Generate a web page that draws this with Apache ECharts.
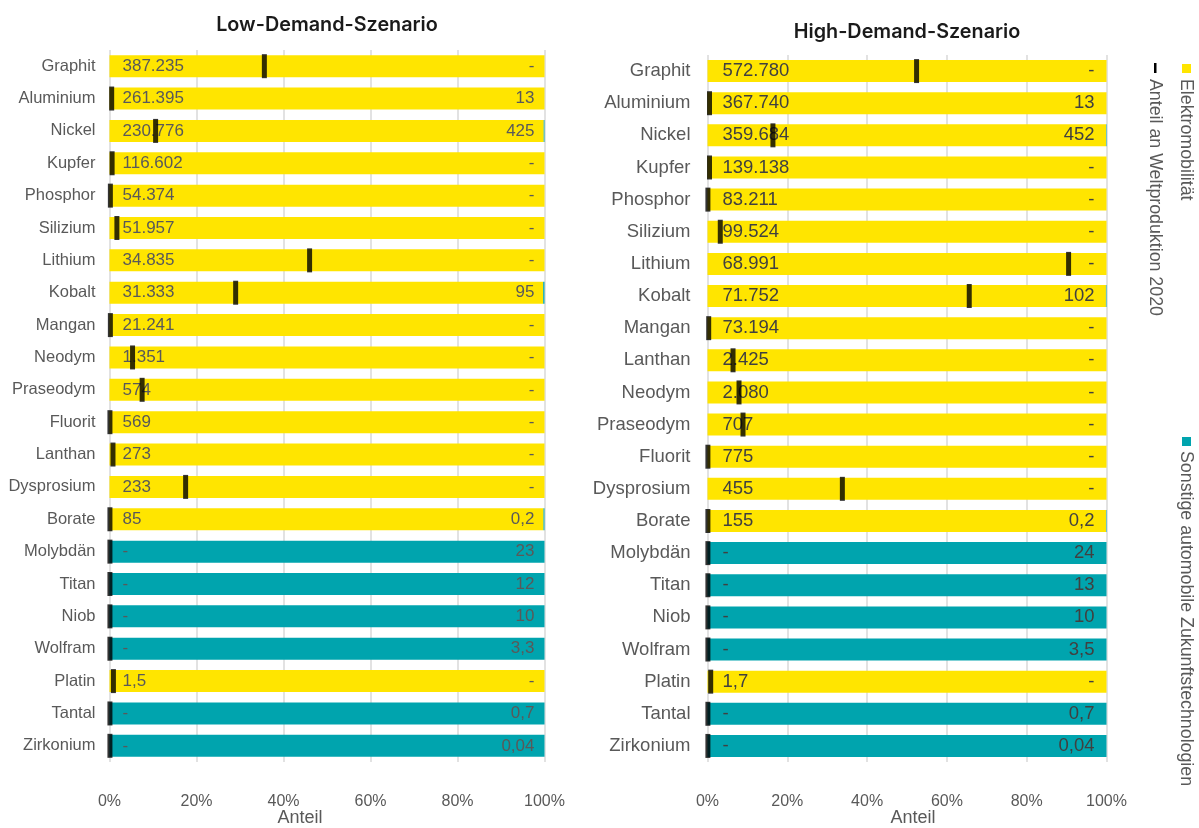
<!DOCTYPE html>
<html>
<head>
<meta charset="utf-8">
<script src="https://cdn.jsdelivr.net/npm/echarts@6/dist/echarts.min.js"></script>
<style>
  html, body { margin: 0; padding: 0; background: #fff; }
  #chart { width: 1199px; height: 828px; }
</style>
</head>
<body>
<div id="chart"></div>
<script>
// Low-Demand-Szenario
var catsLow = ['Graphit', 'Aluminium', 'Nickel', 'Kupfer', 'Phosphor', 'Silizium', 'Lithium', 'Kobalt', 'Mangan', 'Neodym', 'Praseodym', 'Fluorit', 'Lanthan', 'Dysprosium', 'Borate', 'Molybdän', 'Titan', 'Niob', 'Wolfram', 'Platin', 'Tantal', 'Zirkonium'];
var elektroLow = [387235, 261395, 230776, 116602, 54374, 51957, 34835, 31333, 21241, 1351, 574, 569, 273, 233, 85, 0, 0, 0, 0, 1.5, 0, 0];
var sonstigeLow = [0, 13, 425, 0, 0, 0, 0, 95, 0, 0, 0, 0, 0, 0, 0.2, 23, 12, 10, 3.3, 0, 0.7, 0.04];
var weltLow = [35.6, 0.5, 10.6, 0.6, 0.2, 1.7, 46.0, 29.0, 0.2, 5.3, 7.5, 0.1, 0.8, 17.5, 0.1, 0.1, 0.1, 0.1, 0.1, 0.9, 0.1, 0.1];

// High-Demand-Szenario
var catsHigh = ['Graphit', 'Aluminium', 'Nickel', 'Kupfer', 'Phosphor', 'Silizium', 'Lithium', 'Kobalt', 'Mangan', 'Lanthan', 'Neodym', 'Praseodym', 'Fluorit', 'Dysprosium', 'Borate', 'Molybdän', 'Titan', 'Niob', 'Wolfram', 'Platin', 'Tantal', 'Zirkonium'];
var elektroHigh = [572780, 367740, 359684, 139138, 83211, 99524, 68991, 71752, 73194, 2425, 2080, 707, 775, 455, 155, 0, 0, 0, 0, 1.7, 0, 0];
var sonstigeHigh = [0, 13, 452, 0, 0, 0, 0, 102, 0, 0, 0, 0, 0, 0, 0.2, 24, 13, 10, 3.5, 0, 0.7, 0.04];
var weltHigh = [52.4, 0.5, 16.4, 0.5, 0.1, 3.2, 90.5, 65.6, 0.3, 6.4, 7.9, 8.9, 0.1, 33.8, 0.1, 0.1, 0.1, 0.1, 0.1, 0.8, 0.1, 0.1];

var xTicks = [0, 20, 40, 60, 80, 100];

var YELLOW = '#FFE500';
var TEAL = '#00A4AE';

// deutsche Zahlenformatierung, 0 -> '-'
function fmt(v) {
  if (!v) return '-';
  var p = String(v).split('.');
  var i = p[0].replace(/\B(?=(\d{3})+(?!\d))/g, '.');
  return p[1] ? i + ',' + p[1] : i;
}

function share(a, b) {
  return a.map(function (v, i) { return v / (v + b[i]) * 100; });
}

// Serien fuer ein Panel
function panelSeries(idx, el, so, welt, valFont, valColor, dl, dr) {
  var full = el.map(function () { return 100; });
  return [{
    type: 'bar', xAxisIndex: idx, yAxisIndex: idx, stack: 's' + idx,
    barWidth: 22, barGap: '-100%',
    itemStyle: { color: YELLOW },
    data: share(el, so)
  }, {
    type: 'bar', xAxisIndex: idx, yAxisIndex: idx, stack: 's' + idx,
    barWidth: 22, barGap: '-100%',
    itemStyle: { color: TEAL },
    data: share(so, el)
  }, {
    type: 'bar', xAxisIndex: idx, yAxisIndex: idx, silent: true, z: 3,
    barWidth: 22, barGap: '-100%',
    itemStyle: { color: 'rgba(0,0,0,0)' },
    label: {
      show: true, position: 'insideLeft', distance: dl,
      fontFamily: 'Liberation Sans', fontSize: valFont, color: valColor,
      formatter: function (p) { return fmt(el[p.dataIndex]); }
    },
    data: full
  }, {
    type: 'bar', xAxisIndex: idx, yAxisIndex: idx, silent: true, z: 3,
    barWidth: 22, barGap: '-100%',
    itemStyle: { color: 'rgba(0,0,0,0)' },
    label: {
      show: true, position: 'insideRight', distance: dr,
      fontFamily: 'Liberation Sans', fontSize: valFont, color: valColor,
      formatter: function (p) { return fmt(so[p.dataIndex]); }
    },
    data: full
  }, {
    type: 'scatter', xAxisIndex: idx, yAxisIndex: idx, z: 10,
    symbol: 'rect', symbolSize: [5, 24],
    itemStyle: { color: '#000' },
    data: welt.map(function (v, i) { return [v, i]; })
  }];
}

function xAxis(idx, namePad) {
  return {
    gridIndex: idx, type: 'value', min: 0, max: 100, interval: 20,
    name: 'Anteil', nameLocation: 'middle', nameGap: 47, nameMoveOverlap: false,
    nameTextStyle: { fontFamily: 'Liberation Sans', fontSize: 18, color: '#595959', padding: namePad },
    axisLine: { show: false }, axisTick: { show: false },
    axisLabel: {
      margin: 32, fontFamily: 'Liberation Sans', fontSize: 16, color: '#595959',
      formatter: function (v) { return xTicks.indexOf(v) >= 0 ? v + '%' : ''; }
    },
    splitLine: { lineStyle: { color: '#d9d9d9', width: 1.5 } }
  };
}

function yAxis(idx, cats, fs, margin) {
  return {
    gridIndex: idx, type: 'category', data: cats, inverse: true,
    axisLine: { show: false }, axisTick: { show: false },
    axisLabel: { margin: margin, fontFamily: 'Liberation Sans', fontSize: fs, color: '#595959' }
  };
}

var chart = echarts.init(document.getElementById('chart'));

var option = {
  animation: false,
  backgroundColor: '#fff',
  title: [{
    text: 'Low-Demand-Szenario', left: 322, top: 10, textAlign: 'center',
    textStyle: { fontFamily: 'Inter', fontWeight: 600, fontSize: 19.8, color: '#1a1a1a' }
  }, {
    text: 'High-Demand-Szenario', left: 902, top: 17, textAlign: 'center',
    textStyle: { fontFamily: 'Inter', fontWeight: 600, fontSize: 19.8, color: '#1a1a1a' }
  }],
  grid: [
    { left: 109.5, top: 50, width: 435, height: 712, outerBoundsMode: 'none' },
    { left: 707.5, top: 55, width: 399, height: 707, outerBoundsMode: 'none' }
  ],
  xAxis: [xAxis(0, [0, 54, 0, 0]), xAxis(1, [0, 0, 0, 12])],
  yAxis: [yAxis(0, catsLow, 16.5, 14), yAxis(1, catsHigh, 18.5, 17)],
  series: panelSeries(0, elektroLow, sonstigeLow, weltLow, 17, '#595959', 13, 10)
    .concat(panelSeries(1, elektroHigh, sonstigeHigh, weltHigh, 18.5, '#404040', 15, 12)),
  graphic: [
    { type: 'rect', shape: { x: 1182, y: 64, width: 9, height: 9 }, style: { fill: YELLOW } },
    { type: 'text', x: 1186, y: 79, rotation: -Math.PI / 2,
      style: { text: 'Elektromobilität', fontFamily: 'Liberation Sans', fontSize: 17.8, fill: '#595959', textAlign: 'left', textVerticalAlign: 'middle' } },
    { type: 'rect', shape: { x: 1154, y: 63, width: 2.5, height: 10 }, style: { fill: '#000' } },
    { type: 'text', x: 1155, y: 79, rotation: -Math.PI / 2,
      style: { text: 'Anteil an Weltproduktion 2020', fontFamily: 'Liberation Sans', fontSize: 17.8, fill: '#595959', textAlign: 'left', textVerticalAlign: 'middle' } },
    { type: 'rect', shape: { x: 1182, y: 437, width: 9, height: 9 }, style: { fill: TEAL } },
    { type: 'text', x: 1186, y: 451, rotation: -Math.PI / 2,
      style: { text: 'Sonstige automobile Zukunftstechnologien', fontFamily: 'Liberation Sans', fontSize: 17.8, fill: '#595959', textAlign: 'left', textVerticalAlign: 'middle' } }
  ]
};

chart.setOption(option);
</script>
</body>
</html>
